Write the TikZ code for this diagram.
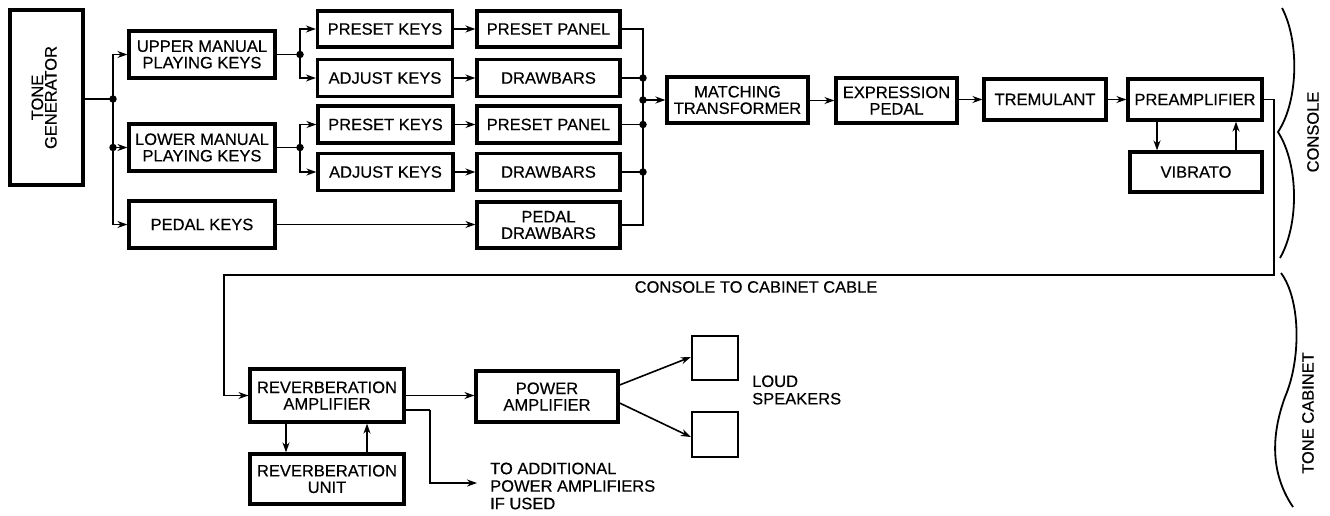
\documentclass[tikz,border=0pt]{standalone}
\usepackage{fontspec}
\setmainfont{Liberation Sans}[FakeBold=0.4]
\usetikzlibrary{arrows.meta}
\begin{document}
\begin{tikzpicture}[x=1pt,y=-1pt,
  box/.style={draw,line width=3.2pt,rectangle,inner sep=0pt,align=center,font=\fontsize{16.5}{16.5}\selectfont},
  spk/.style={draw,line width=2.4pt,rectangle,inner sep=0pt,minimum width=46,minimum height=44},
  conn/.style={line width=1.6pt},
  arr/.style={line width=1.6pt,-{Stealth[length=10pt,width=7pt]}},
  dot/.style={circle,fill,inner sep=0pt,minimum size=7.5pt},
  lbl/.style={font=\fontsize{16.5}{17.5}\selectfont,inner sep=0pt},
  brace/.style={line width=1.8pt}]
\path[use as bounding box] (0,0) rectangle (1330,515);
% boxes
\node[box,minimum width=73,minimum height=175] (tg) at (46.5,97.5) {\rotatebox{90}{\begin{tabular}{c}TONE\\[-3pt]GENERATOR\end{tabular}}};
\node[box,minimum width=146,minimum height=47] (upm) at (202,54.5) {UPPER MANUAL\\PLAYING KEYS};
\node[box,minimum width=146,minimum height=47] (lpm) at (202,147.5) {LOWER MANUAL\\PLAYING KEYS};
\node[box,minimum width=146,minimum height=47] (pk) at (202,224.5) {PEDAL KEYS};
\node[box,minimum width=135,minimum height=36] (ps1) at (385,29) {PRESET KEYS};
\node[box,minimum width=135,minimum height=37] (ad1) at (385,78) {ADJUST KEYS};
\node[box,minimum width=135,minimum height=37] (ps2) at (385.5,124.5) {PRESET KEYS};
\node[box,minimum width=135,minimum height=37] (ad2) at (385.5,172) {ADJUST KEYS};
\node[box,minimum width=143,minimum height=36] (pp1) at (548.5,29) {PRESET PANEL};
\node[box,minimum width=143,minimum height=37] (db1) at (548.5,78) {DRAWBARS};
\node[box,minimum width=143,minimum height=37] (pp2) at (548.5,124.5) {PRESET PANEL};
\node[box,minimum width=143,minimum height=37] (db2) at (548.5,172) {DRAWBARS};
\node[box,minimum width=143,minimum height=46] (pdb) at (548.5,225) {PEDAL\\DRAWBARS};
\node[box,minimum width=141,minimum height=46] (mt) at (737.5,100) {MATCHING\\TRANSFORMER};
\node[box,minimum width=121,minimum height=45] (ep) at (896.5,100.5) {EXPRESSION\\PEDAL};
\node[box,minimum width=122,minimum height=41] (tr) at (1045,99.5) {TREMULANT};
\node[box,minimum width=134,minimum height=41] (pa) at (1195,99.5) {PREAMPLIFIER};
\node[box,minimum width=132,minimum height=40] (vb) at (1196,172) {VIBRATO};
\node[box,minimum width=154,minimum height=53] (ra) at (327,395.5) {REVERBERATION\\AMPLIFIER};
\node[box,minimum width=154,minimum height=50] (ru) at (327,479) {REVERBERATION\\UNIT};
\node[box,minimum width=142,minimum height=51] (pw) at (547,396.5) {POWER\\AMPLIFIER};
\node[spk] (sp1) at (715,358) {};
\node[spk,minimum height=45] (sp2) at (715,434.5) {};
% junction coordinates
\coordinate (j0) at (113,99);
\coordinate (j1) at (113,147.5);
\coordinate (ju) at (300,54.5);
\coordinate (jl) at (300,147.5);
\coordinate (b1) at (643,78);
\coordinate (b2) at (643,100);
\coordinate (b3) at (643,124.5);
\coordinate (b4) at (643,172);
\coordinate (c1) at (1274,99.5);
\coordinate (c2) at (1274,275);
\coordinate (c3) at (224,275);
\coordinate (r1) at (430,410);
\coordinate (r2) at (477,483);
% left fan-out
\draw[conn] (j0 -| tg.east) -- (j0);
\draw[arr] (j0) |- (upm.west);
\draw[arr] (j0) |- (lpm.west);
\draw[arr] (j0) |- (pk.west);
\draw[conn] (upm.east) -- (ju);
\draw[arr] (ju) |- (ps1.west);
\draw[arr] (ju) |- (ad1.west);
\draw[conn] (lpm.east) -- (jl);
\draw[arr] (jl) |- (ps2.west);
\draw[arr] (jl) |- (ad2.west);
\draw[arr] (ps1) -- (pp1);
\draw[arr] (ad1) -- (db1);
\draw[arr] (ps2) -- (pp2);
\draw[arr] (ad2) -- (db2);
\draw[arr] (pk.east) -- (pk.east -| pdb.west);
% bus
\draw[conn] (pp1.east) -| (b1) -- (b2) -- (b3) -- (b4) |- (pdb.east);
\draw[conn] (db1.east) -- (b1);
\draw[conn] (pp2.east) -- (b3);
\draw[conn] (db2.east) -- (b4);
\draw[arr] (b2) -- (b2 -| mt.west);
\draw[arr] (mt.east |- ep) -- (ep.west);
\draw[arr] (ep.east |- tr) -- (tr.west);
\draw[arr] (tr) -- (pa);
\draw[arr] (pa.south -| 1157,0) -- (vb.north -| 1157,0);
\draw[arr] (vb.north -| 1236,0) -- (pa.south -| 1236,0);
% cable
\draw[conn] (pa.east) -- (c1) -- (c2) -- (c3) |- (ra.west);
\draw[arr] (c3 |- ra.west) -- (ra.west);
\node[lbl] (cable) at (756,287) {CONSOLE TO CABINET CABLE};
% cabinet
\draw[arr] (ra.east) -- (ra.east -| pw.west);
\draw[conn] (ra.east |- r1) -- (r1);
\draw[arr] (r1) |- (r2);
\draw[arr] (ra.south -| 286,0) -- (ru.north -| 286,0);
\draw[arr] (ru.north -| 367,0) -- (ra.south -| 367,0);
\draw[arr] (pw.east |- 0,385) -- (sp1.west |- 0,357);
\draw[arr] (pw.east |- 0,403) -- (sp2.west |- 0,437);
\node[lbl,anchor=west,align=left] (add) at (490,486) {TO ADDITIONAL\\POWER AMPLIFIERS\\IF USED};
\node[lbl,anchor=west,align=left] (ls) at (752,390) {LOUD\\SPEAKERS};
% dots
\foreach \p in {j0,j1,ju,jl,b1,b2,b3,b4} \node[dot] at (\p) {};
% braces
\draw[brace] (1282,8) .. controls (1299,40) and (1299,100) .. (1278,132) .. controls (1299,165) and (1299,225) .. (1280,258);
\draw[brace] (1281,273) .. controls (1301,300) and (1301,360) .. (1285,397) .. controls (1273,430) and (1268,470) .. (1293,507);
\node[lbl,rotate=90] (console) at (1313,132) {CONSOLE};
\node[lbl,rotate=90] (cabinet) at (1308,413) {TONE CABINET};
\end{tikzpicture}
\end{document}
